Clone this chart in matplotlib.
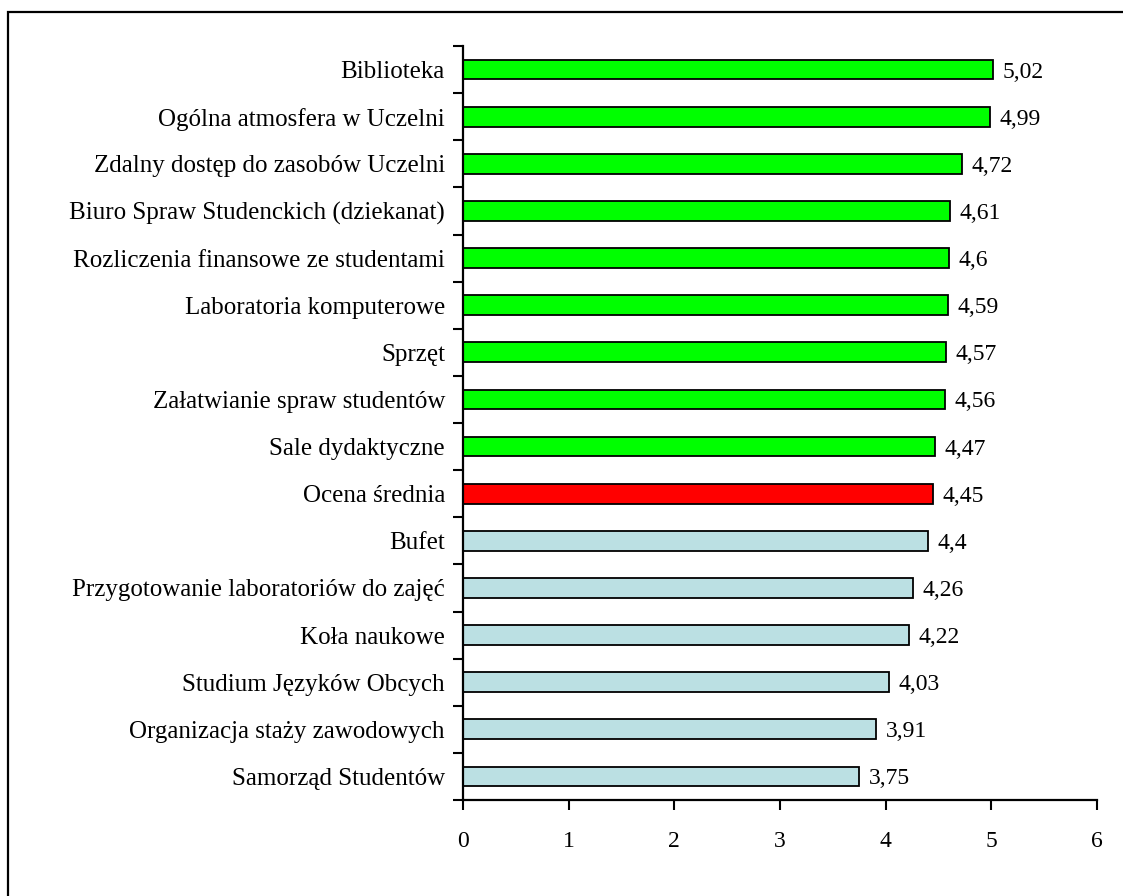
import matplotlib.pyplot as plt
from matplotlib.patches import Rectangle
from matplotlib.ticker import FixedLocator

plt.rcParams['font.family'] = ['Liberation Serif', 'DejaVu Serif']

# ocena obszarów, od najwyższej
categories = [
    "Biblioteka",
    "Ogólna atmosfera w Uczelni",
    "Zdalny dostęp do zasobów Uczelni",
    "Biuro Spraw Studenckich (dziekanat)",
    "Rozliczenia finansowe ze studentami",
    "Laboratoria komputerowe",
    "Sprzęt",
    "Załatwianie spraw studentów",
    "Sale dydaktyczne",
    "Ocena średnia",
    "Bufet",
    "Przygotowanie laboratoriów do zajęć",
    "Koła naukowe",
    "Studium Języków Obcych",
    "Organizacja staży zawodowych",
    "Samorząd Studentów",
]
values = [5.02, 4.99, 4.72, 4.61, 4.6, 4.59, 4.57, 4.56, 4.47, 4.45,
          4.4, 4.26, 4.22, 4.03, 3.91, 3.75]
groups = ["above"] * 9 + ["mean"] + ["below"] * 6
x_ticks = [0, 1, 2, 3, 4, 5, 6]

palette = {"above": "#00FF00", "mean": "#FF0000", "below": "#BBE0E3"}
colors = [palette[g] for g in groups]


def fmt(v):
    return f"{v:g}".replace(".", ",")


fig = plt.figure(figsize=(11.23, 8.96), dpi=100)
# ramka wokół wykresu
fig.patches.append(Rectangle((8 / 1123, -0.1), 1.2, 1.1 - 12 / 896,
                             transform=fig.transFigure, fill=False,
                             edgecolor="black", linewidth=1.6))

ax = fig.add_axes([463 / 1123, 1 - 800 / 896, 634 / 1123, 754 / 896])
pos = list(range(len(categories)))
ax.barh(pos, values, height=0.42, color=colors, edgecolor="black", linewidth=1.3)

for p, v in zip(pos, values):
    ax.text(v + 0.09, p, fmt(v), va="center_baseline", ha="left", fontsize=17)

ax.set_xlim(0, 6)
ax.set_ylim(len(categories) - 0.5, -0.5)
ax.set_xticks(x_ticks)
ax.set_xticklabels([str(t) for t in x_ticks], fontsize=17)
ax.set_yticks(pos)
ax.set_yticklabels(categories, fontsize=18)
ax.yaxis.set_minor_locator(FixedLocator([p - 0.5 for p in pos] + [len(pos) - 0.5]))

ax.tick_params(axis="y", which="major", length=0, pad=13)
ax.tick_params(axis="y", which="minor", length=7, width=1.5, direction="out")
ax.tick_params(axis="x", which="major", length=7, width=1.5, direction="out", pad=15)

for side in ("top", "right"):
    ax.spines[side].set_visible(False)
for side in ("left", "bottom"):
    ax.spines[side].set_linewidth(1.6)

fig.savefig("out.png", dpi=100)
